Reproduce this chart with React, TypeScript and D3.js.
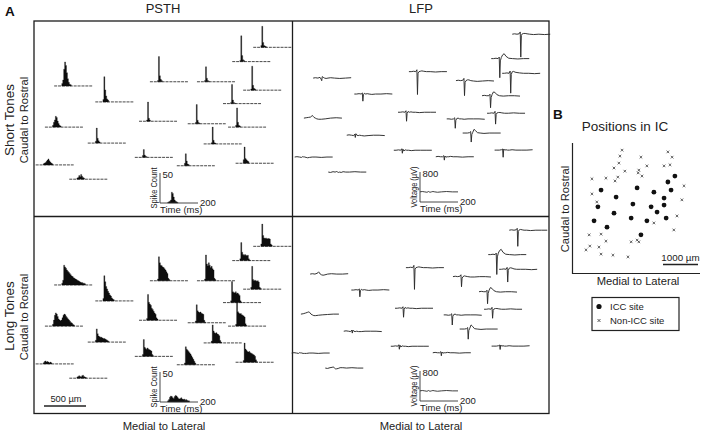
import React from "react";
import * as d3 from "d3";

const FONT = "'Liberation Sans', Arial, Helvetica, sans-serif";

// ---------- Panel A: recording sites (µm, medial→lateral / caudal→rostral) ----------
const siteML = [2610, 2360, 240, 1380, 1940, 2490, 730, 2250, 1250, 1830, 2310, 130, 640, 2020, 1200, 1700, 2400, 20, 420];
const siteCR = [2020, 1850, 1560, 1610, 1610, 1510, 1370, 1350, 1140, 1110, 1070, 1070, 880, 870, 710, 610, 640, 620, 450];

// PSTH spike counts, 5 ms bins, first value = bin starting at 40 ms
const BIN_MS = 5;
const ONSET_BIN = 8;
const psthShort = [
  [3, 35, 8, 3, 2, 1],
  [2, 43, 10, 3, 2],
  [4, 10, 28, 40, 34, 22, 12, 6, 3, 2],
  [2, 42, 10, 4, 2],
  [2, 25, 6, 2, 1],
  [2, 40, 8, 3, 2],
  [4, 42, 20, 10, 5, 3],
  [2, 32, 6, 2, 1],
  [2, 32, 5, 2],
  [2, 32, 6, 2, 1],
  [3, 32, 8, 3, 2],
  [3, 8, 12, 18, 16, 10, 6, 3, 2],
  [3, 25, 8, 4, 2],
  [2, 28, 6, 2, 1],
  [3, 13, 4, 2, 1],
  [4, 20, 8, 3, 2],
  [6, 27, 8, 6, 4, 3],
  [2, 3, 4, 6, 8, 10, 7, 5, 3, 2],
  [2, 3, 6, 4, 8, 5, 3, 2],
];
const psthLong = [
  [4, 37, 18, 14, 13, 14, 12, 13, 13, 12, 4, 2],
  [3, 30, 14, 10, 9, 10, 9, 8, 9, 3, 1],
  [3, 8, 33, 30, 28, 25, 23, 21, 19, 17, 15, 14, 12, 11, 10, 9, 8, 7, 6, 5, 4, 4, 3, 3, 2],
  [3, 40, 30, 26, 25, 23, 22, 20, 18, 15, 12, 4, 2],
  [3, 43, 28, 25, 30, 26, 22, 24, 20, 18, 4, 2],
  [3, 38, 16, 14, 15, 14, 13, 14, 12, 3, 1],
  [4, 42, 32, 24, 20, 16, 13, 10, 8, 5, 3, 2],
  [3, 35, 18, 17, 16, 18, 15, 16, 14, 12, 3, 1],
  [3, 43, 30, 27, 25, 20, 18, 15, 12, 10, 4, 2],
  [3, 30, 20, 18, 17, 18, 16, 15, 14, 4, 1],
  [3, 40, 24, 22, 20, 21, 19, 18, 17, 15, 4, 1],
  [3, 10, 18, 22, 20, 16, 12, 10, 9, 10, 14, 18, 20, 19, 16, 14, 12, 10, 8, 6, 5, 3, 2],
  [3, 22, 14, 10, 9, 8, 8, 7, 6, 6, 5, 4, 3, 2],
  [3, 30, 20, 17, 16, 17, 15, 14, 12, 4, 1],
  [3, 28, 15, 13, 12, 14, 12, 11, 10, 9, 3, 1],
  [3, 30, 26, 24, 22, 20, 18, 15, 12, 9, 6, 3],
  [3, 32, 22, 20, 18, 17, 18, 16, 15, 14, 13, 12, 10, 4, 1],
  [2, 4, 5, 3, 4, 3, 2, 3, 2],
  [2, 3, 4, 3, 2, 4, 5, 3, 2, 1],
];
const psthInsetShort = [1, 2, 3, 5, 18, 16, 10, 5, 3, 2, 1];
const psthInsetLong = [2, 4, 8, 10, 9, 7, 6, 9, 11, 10, 8, 6, 5, 6, 7, 5, 4, 5, 3, 4, 3, 2, 2];

// LFP traces (µV), sampled at lfpTimes (ms); resting level of each trace in µV
const lfpTimes = [0, 12, 25, 36, 42, 45, 48, 53, 60, 68, 78, 92, 112, 140, 170, 200];
const lfpLevel = [350, 80, 210, 270, 30, 450, 210, 210, 240, 130, 370, 240, 210, 290, 190, 240, 350, 210, 190];
const lfpShort = [
  [0, 10, 0, 10, 60, -610, -30, 10, 20, 20, 10, 0, -10, 0, -10, 0],
  [0, 0, 10, 0, 40, -510, -60, 30, 100, 130, 60, 10, 0, -10, 0, 0],
  [0, 10, 0, 20, -30, -70, 40, 20, 0, -10, 0, 10, 0, -10, 0, 10],
  [0, 0, 10, 0, 50, -610, -40, 0, 10, 20, 10, 0, 0, -10, 0, 0],
  [0, 10, 0, 10, 60, -400, -50, 0, 20, 20, 0, -10, -20, -10, 0, -10],
  [0, 0, 10, 0, 60, -530, -30, 40, 50, 30, 20, 10, 0, 0, -10, 0],
  [0, 0, 10, 0, 30, -190, -20, 20, 0, 10, 0, -10, 0, 0, 10, 0],
  [0, 10, 0, 0, 40, -320, -50, 30, 100, 90, 30, 0, -10, 0, 0, -10],
  [0, 0, 10, 0, 40, -240, -30, 20, 0, 10, 0, 0, -10, 0, 0, 0],
  [0, 0, -10, 0, 30, -250, -40, 10, 20, 0, 0, -10, 0, 0, 0, -10],
  [0, 0, 10, 0, 50, -290, -30, 10, 20, 20, 10, 0, 0, 10, 0, 0],
  [0, 10, 20, 30, 60, 70, 50, 20, 0, -20, -30, -30, -20, 0, 10, 0],
  [0, 10, 0, -10, 30, -60, 40, 0, -10, 0, -10, -20, -10, 0, 0, -10],
  [0, 0, 0, 10, 40, -240, -40, 20, 100, 60, 10, 0, -10, 0, 0, 0],
  [0, 0, 10, 0, 40, -80, 30, -20, 10, 0, 0, -10, 0, 0, 0, 0],
  [0, 10, 0, 0, 30, -90, 20, -10, 0, 0, 10, 0, 0, -10, 0, 0],
  [0, 0, 0, 10, 30, -190, 30, 0, 10, 0, 0, 10, 0, 0, 0, 10],
  [0, 10, 0, -10, 10, 0, 10, 0, -10, -20, -10, 0, 0, -10, 0, 0],
  [0, -10, 10, 0, 10, 20, 0, -10, 0, -10, 10, 0, 0, 10, 0, 0],
];
const lfpLong = [
  [0, 10, 0, 10, 50, -430, -30, 10, 20, 10, 0, 0, -10, 0, 0, 0],
  [0, 0, 10, 0, 40, -530, -60, 40, 110, 140, 60, 10, 0, -10, 0, 0],
  [0, 10, 0, 20, 40, 60, 40, 0, -20, -30, -20, 0, 10, 0, 0, 10],
  [0, 0, 10, 0, 60, -580, -40, 0, 10, 20, 10, 0, 0, -10, 0, 0],
  [0, 10, 0, 10, 50, -270, -40, 0, 20, 10, 0, -10, -10, 0, 0, -10],
  [0, 0, 10, 0, 50, -340, -30, 30, 40, 30, 10, 0, 0, 0, -10, 0],
  [0, 0, 10, 0, 30, -180, -20, 20, 0, 10, 0, -10, 0, 0, 10, 0],
  [0, 10, 0, 0, 40, -320, -50, 40, 110, 90, 30, 0, -10, 0, 0, -10],
  [0, 0, 10, 0, 40, -240, -30, 20, 0, 10, 0, 0, -10, 0, 0, 0],
  [0, 0, -10, 0, 30, -270, -40, 10, 20, 0, 0, -10, 0, 0, 0, -10],
  [0, 0, 10, 0, 50, -240, -30, 10, 20, 20, 10, 0, 0, 10, 0, 0],
  [0, 10, 30, 50, 60, 50, 30, 0, -20, -40, -40, -30, -20, -10, 0, 0],
  [0, 10, 0, -10, 30, -50, 30, 0, -10, 0, -10, -10, 0, 0, 0, -10],
  [0, 0, 0, 10, 40, -270, -40, 20, 110, 70, 10, 0, -10, 0, 0, 0],
  [0, 0, 10, 0, 40, -80, 30, -20, 10, 0, 0, -10, 0, 0, 0, 0],
  [0, 10, 0, 0, 30, -80, 20, -10, 0, 0, 10, 0, 0, -10, 0, 0],
  [0, 0, 0, 10, 30, -90, 30, 0, 10, 0, 0, 10, 0, 0, 0, 10],
  [0, 10, 0, -10, 10, 0, 10, 0, -10, -10, -10, 0, 0, -10, 0, 0],
  [0, -10, 10, 20, 30, 20, 0, -20, -20, -10, 10, 10, 0, 10, 0, 0],
];
const lfpInsetLevel = 270;
const lfpInset = [0, 10, 0, -10, 0, 10, 0, -10, 0, 10, 0, -10, 0, 10, 0, 0];

// ---------- Panel B: positions in IC (µm) ----------
const iccML = [2940, 2740, 830, 1860, 2340, 2830, 1260, 2630, 740, 1740, 2260, 2630, 1200, 2430, 630, 1690, 2140, 2690, 1000, 1970];
const iccCR = [2770, 2600, 2370, 2430, 2310, 2370, 2170, 2140, 1890, 1970, 1890, 1940, 1710, 1740, 1490, 1570, 1490, 1570, 1310, 1090];
const nonIccML = [1430, 2740, 1370, 1970, 2860, 1340, 2140, 2630, 2800, 1200, 1510, 1910, 1890, 2000, 570, 970, 1310, 1230, 3200, 570, 3140, 710, 3000, 2340, 2910, 490, 830, 970, 1860, 1910, 1690, 510, 770, 400, 830, 1170, 1600];
const nonIccCR = [3510, 3460, 3340, 3310, 3310, 3140, 3060, 3060, 3090, 3000, 2910, 2940, 2860, 2770, 2690, 2710, 2740, 2630, 2490, 2260, 2090, 2030, 1630, 1430, 1230, 1090, 1110, 910, 940, 890, 890, 770, 740, 660, 540, 510, 460];

// scale-bar values
const scaleBarA = 500;
const scaleBarB = 1000;
const countScale = 50;
const timeScale = 200;
const voltScale = 800;

// ---------- scales ----------
const umA = d3.scaleLinear().domain([0, scaleBarA]).range([0, 42]);
const xB = d3.scaleLinear().domain([0, scaleBarB]).range([572, 607]);
const yB = d3.scaleLinear().domain([0, scaleBarB]).range([273, 238]);
const tMini = d3.scaleLinear().domain([0, timeScale]).range([0, 38]);
const cMini = d3.scaleLinear().domain([0, countScale]).range([0, 30]);
const vMini = d3.scaleLinear().domain([0, voltScale]).range([0, 30]);

const psthOrigin = [{ x: 34, y: 217 }, { x: 34, y: 416 }];
const lfpOrigin = [{ x: 293, y: 217 }, { x: 290, y: 413 }];

type Bin = { t: number; c: number };
function psthPath(counts: number[]): string {
  const pts: Bin[] = counts.map((c, i) => ({ t: (ONSET_BIN + i) * BIN_MS, c }));
  pts.push({ t: (ONSET_BIN + counts.length) * BIN_MS, c: 0 });
  return (
    d3
      .area<Bin>()
      .x((d) => tMini(d.t))
      .y0(0)
      .y1((d) => -cMini(d.c))
      .curve(d3.curveStepAfter)(pts) || ""
  );
}
function lfpPath(values: number[], level: number): string {
  return (
    d3
      .line<number>()
      .x((_, i) => tMini(lfpTimes[i]))
      .y((v) => -vMini(level + v))(values) || ""
  );
}

const Psth = ({ x, y, counts }: { x: number; y: number; counts: number[] }) => (
  <g transform={`translate(${x},${y})`}>
    <line x1={0} x2={tMini(timeScale)} y1={0} y2={0} stroke="#333" strokeWidth={0.9} strokeDasharray="3 0.9" />
    <path d={psthPath(counts)} fill="#0d0d0d" stroke="#0d0d0d" strokeWidth={0.3} />
  </g>
);

const Lfp = ({ x, y, values, level }: { x: number; y: number; values: number[]; level: number }) => (
  <g transform={`translate(${x},${y})`}>
    <path d={lfpPath(values, level)} fill="none" stroke="#2a2a2a" strokeWidth={0.95} strokeLinejoin="round" />
  </g>
);

const PsthInset = ({ x, y, counts }: { x: number; y: number; counts: number[] }) => (
  <g transform={`translate(${x},${y})`} fontFamily={FONT} fill="#222">
    <path d={psthPath(counts)} fill="#0d0d0d" stroke="#0d0d0d" strokeWidth={0.3} />
    <path d={`M0,${-cMini(countScale)}V0H${tMini(timeScale)}`} fill="none" stroke="#333" strokeWidth={0.9} />
    <text x={2.5} y={-25} fontSize={9.5}>{countScale}</text>
    <text x={40} y={3} fontSize={9.5}>{timeScale}</text>
    <text transform="translate(-3.5,-15) rotate(-90)" textAnchor="middle" fontSize={8.4} textLength={41} lengthAdjust="spacingAndGlyphs">Spike Count</text>
    <text x={0} y={9.5} fontSize={9.5}>Time (ms)</text>
  </g>
);

const LfpInset = ({ x, y }: { x: number; y: number }) => (
  <g transform={`translate(${x},${y})`} fontFamily={FONT} fill="#222">
    <path d={lfpPath(lfpInset, lfpInsetLevel)} fill="none" stroke="#2a2a2a" strokeWidth={0.9} />
    <path d={`M0,${-vMini(voltScale)}V0H${tMini(timeScale)}`} fill="none" stroke="#333" strokeWidth={0.9} />
    <text x={2.5} y={-25} fontSize={9.5}>{voltScale}</text>
    <text x={40} y={3} fontSize={9.5}>{timeScale}</text>
    <text transform="translate(-3.5,-15) rotate(-90)" textAnchor="middle" fontSize={8.4} textLength={41} lengthAdjust="spacingAndGlyphs">Voltage (µV)</text>
    <text x={0} y={9.5} fontSize={9.5}>Time (ms)</text>
  </g>
);

const crossPath = (x: number, y: number, r: number) =>
  `M${x - r},${y - r}L${x + r},${y + r}M${x - r},${y + r}L${x + r},${y - r}`;

export default function App() {
  const conditions = [psthShort, psthLong];
  const lfpConditions = [lfpShort, lfpLong];
  const psthInsets = [psthInsetShort, psthInsetLong];
  return (
    <svg
      width={703}
      height={436}
      viewBox="0 0 703 436"
      style={{ position: "absolute", left: 0, top: 0, background: "#fff" }}
      fontFamily={FONT}
    >
      <rect width={703} height={436} fill="#fff" />
      {/* Panel A frame */}
      <rect x={34} y={21} width={515} height={392.5} fill="none" stroke="#1c1c1c" strokeWidth={1.3} />
      <line x1={292.5} x2={292.5} y1={21} y2={413.5} stroke="#1c1c1c" strokeWidth={1.3} />
      <line x1={34} x2={549} y1={216.5} y2={216.5} stroke="#1c1c1c" strokeWidth={1.3} />

      <text x={5} y={15.5} fontSize={13.5} fontWeight="bold" fill="#111">A</text>
      <text x={163} y={13} fontSize={13} textAnchor="middle" fill="#222">PSTH</text>
      <text x={421} y={13} fontSize={13} textAnchor="middle" fill="#222">LFP</text>
      <text transform="translate(13.5,120) rotate(-90)" fontSize={13.5} textAnchor="middle" fill="#222">Short Tones</text>
      <text transform="translate(28,120) rotate(-90)" fontSize={11.2} textAnchor="middle" fill="#222">Caudal to Rostral</text>
      <text transform="translate(13.5,316) rotate(-90)" fontSize={13.5} textAnchor="middle" fill="#222">Long Tones</text>
      <text transform="translate(28,317) rotate(-90)" fontSize={11.2} textAnchor="middle" fill="#222">Caudal to Rostral</text>
      <text x={164} y={430} fontSize={11.2} textAnchor="middle" fill="#222">Medial to Lateral</text>
      <text x={421} y={430} fontSize={11.2} textAnchor="middle" fill="#222">Medial to Lateral</text>

      {/* PSTHs */}
      {conditions.map((rows, r) =>
        rows.map((counts, i) => (
          <Psth
            key={`p${r}-${i}`}
            x={psthOrigin[r].x + umA(siteML[i])}
            y={psthOrigin[r].y - umA(siteCR[i])}
            counts={counts}
          />
        ))
      )}
      {/* LFPs */}
      {lfpConditions.map((rows, r) =>
        rows.map((values, i) => (
          <Lfp
            key={`l${r}-${i}`}
            x={lfpOrigin[r].x + umA(siteML[i])}
            y={lfpOrigin[r].y - umA(siteCR[i])}
            values={values}
            level={lfpLevel[i]}
          />
        ))
      )}
      {/* insets */}
      {psthInsets.map((c, r) => (
        <PsthInset key={`pi${r}`} x={160} y={203 + r * 199} counts={c} />
      ))}
      {[0, 1].map((r) => (
        <LfpInset key={`li${r}`} x={420} y={202 + r * 199} />
      ))}

      {/* 500 µm scale bar */}
      <line x1={44} x2={44 + umA(scaleBarA)} y1={406} y2={406} stroke="#222" strokeWidth={1.4} />
      <text x={66} y={402} fontSize={9.3} textAnchor="middle" fill="#222">{`${scaleBarA} µm`}</text>

      {/* Panel B */}
      <text x={553} y={118.5} fontSize={13.5} fontWeight="bold" fill="#111">B</text>
      <text x={625} y={131} fontSize={13.5} textAnchor="middle" fill="#222">Positions in IC</text>
      <path d="M572.5,143V273.5H700" fill="none" stroke="#222" strokeWidth={1.2} />
      <text transform="translate(569,209) rotate(-90)" fontSize={11.2} textAnchor="middle" fill="#222">Caudal to Rostral</text>
      <text x={638} y={284.5} fontSize={11.2} textAnchor="middle" fill="#222">Medial to Lateral</text>
      {nonIccML.map((m, i) => (
        <path key={`n${i}`} d={crossPath(xB(m), yB(nonIccCR[i]), 1.3)} stroke="#333" strokeWidth={0.75} />
      ))}
      {iccML.map((m, i) => (
        <circle key={`c${i}`} cx={xB(m)} cy={yB(iccCR[i])} r={2.4} fill="#111" />
      ))}
      <line x1={663} x2={663 + xB(scaleBarB) - xB(0)} y1={264.5} y2={264.5} stroke="#222" strokeWidth={1.3} />
      <text x={680.5} y={261} fontSize={9.8} textAnchor="middle" fill="#222">{`${scaleBarB} µm`}</text>

      {/* legend */}
      <rect x={592} y={297.5} width={87} height={33} fill="none" stroke="#222" strokeWidth={1.2} />
      <circle cx={599} cy={306.5} r={2.6} fill="#111" />
      <text x={610} y={309.5} fontSize={9.5} fill="#222">ICC site</text>
      <path d={crossPath(599, 320.5, 1.5)} stroke="#333" strokeWidth={0.8} />
      <text x={610} y={323.5} fontSize={9.5} fill="#222">Non-ICC site</text>
    </svg>
  );
}
